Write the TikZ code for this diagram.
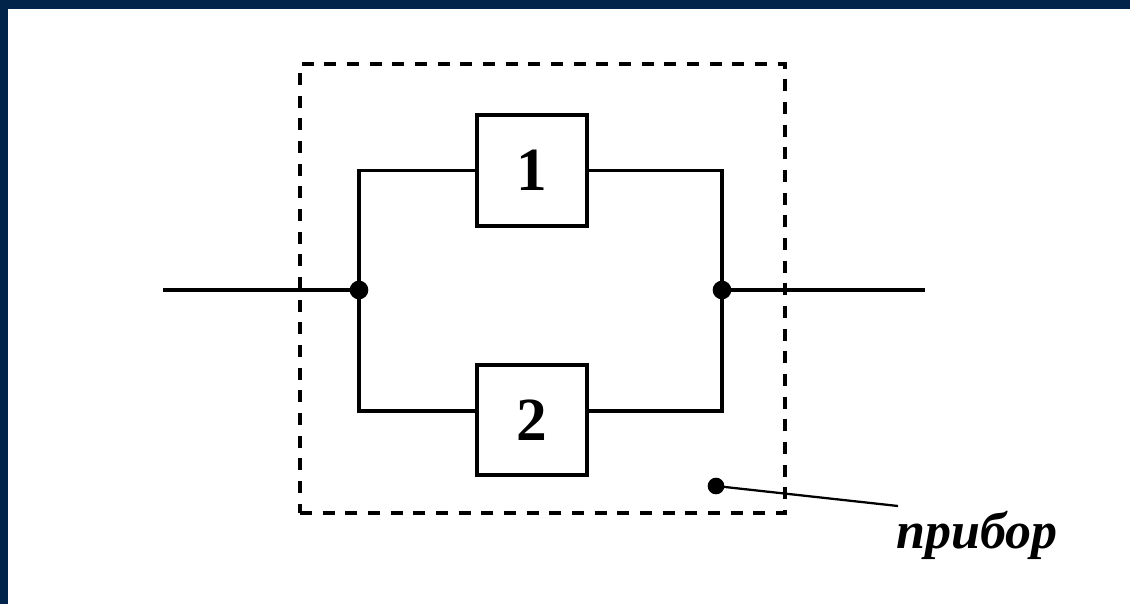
\documentclass[tikz,border=0pt]{standalone}
\usepackage{fontspec}
\setmainfont{Liberation Serif}
\usetikzlibrary{calc}
\definecolor{navy}{RGB}{0,36,74}
\tikzset{
  wire/.style={line width=2.8pt, black},
  blockbox/.style={draw, line width=2.8pt, minimum width=83pt, minimum height=83pt, inner sep=0pt,
    font=\fontsize{46}{48}\selectfont\bfseries},
  devbox/.style={draw, line width=2.6pt, dash pattern=on 9pt off 8pt, inner sep=0pt},
  junction/.style={circle, fill=black, inner sep=0pt, minimum size=14pt},
  pdot/.style={circle, fill=black, inner sep=0pt, minimum size=12.5pt},
  pointer/.style={line width=1.7pt, black},
  lbl/.style={font=\fontsize{39}{42}\selectfont\bfseries\itshape, inner sep=0pt}
}
\begin{document}
\begin{tikzpicture}[x=0.75pt,y=-0.75pt]
\useasboundingbox (0,0) rectangle (1130,604);
\fill[white] (0,0) rectangle (1130,604);
\fill[navy] (0,0) rectangle (1130,9);
\fill[navy] (0,0) rectangle (8,604);
% device outline
\node[devbox, minimum width=363.75pt, minimum height=336.75pt] (dev) at (542.5,288.5) {};
% blocks
\node[blockbox] (b1) at (532,170.5) {1};
\node[blockbox] (b2) at (532,420) {2};
% junctions
\node[junction] (jl) at (359,290) {};
\node[junction] (jr) at (722,290) {};
\coordinate (in) at (163,290);
\coordinate (out) at (925,290);
\coordinate (b2w) at ($(b2.west)+(0,-9)$);
\coordinate (b2e) at ($(b2.east)+(0,-9)$);
% wires
\draw[wire] (in) -- (jl.center);
\draw[wire] (jr.center) -- (out);
\draw[wire] (jl.center) |- (b1.west);
\draw[wire] (b1.east) -| (jr.center);
\draw[wire] (jl.center) |- (b2w);
\draw[wire] (b2e) -| (jr.center);
% pointer
\node[pdot] (pd) at (716,486) {};
\coordinate (pend) at (898,506);
\draw[pointer] (pd.center) -- (pend);
\node[lbl, anchor=base west] (label) at (896,548) {прибор};
\end{tikzpicture}
\end{document}
